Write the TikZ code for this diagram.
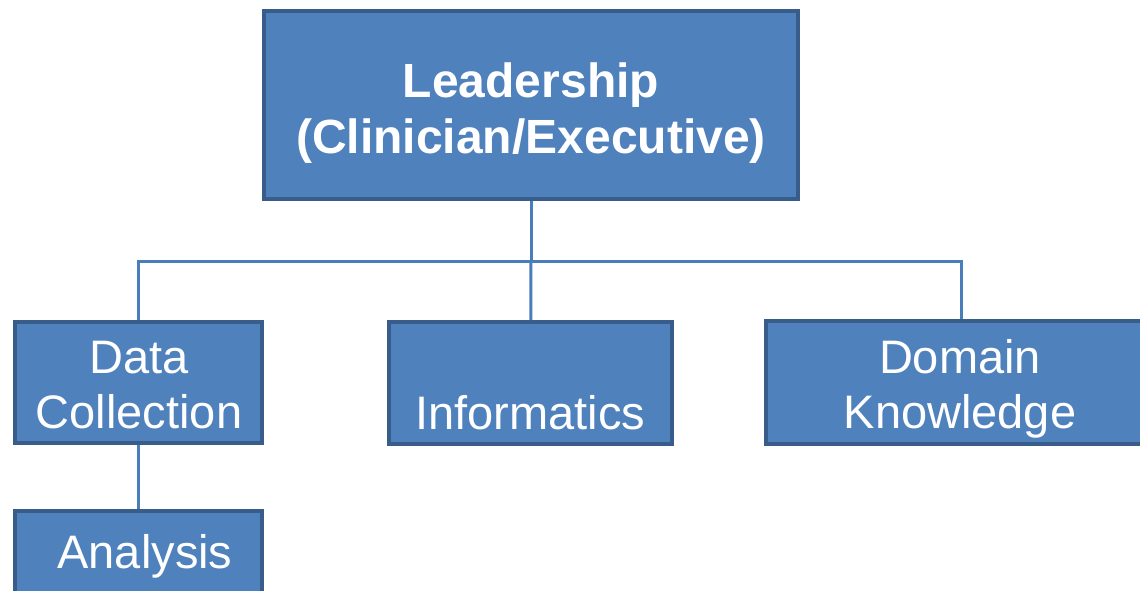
\documentclass[tikz,border=0pt]{standalone}
\usepackage{fontspec}
\setmainfont{Liberation Sans}
\definecolor{boxfill}{RGB}{79,129,189}
\definecolor{boxline}{RGB}{56,93,138}
\definecolor{linkline}{RGB}{74,126,187}
\begin{document}
\begin{tikzpicture}[x=1pt,y=-1pt,
    box/.style={draw=boxline,fill=boxfill,line width=4,rectangle},
    txt/.style={text=white,align=center,anchor=base,inner sep=0,
      font=\fontsize{47}{55}\selectfont},
    conn/.style={draw=linkline,line width=3}]
  \useasboundingbox (0,0) rectangle (1140,590);
  \clip (0,0) rectangle (1140,590);

  % boxes
  \node[box,minimum width=534,minimum height=188] (lead) at (531,105) {};
  \node[box,minimum width=247,minimum height=121] (data) at (138.5,382.5) {};
  \node[box,minimum width=283,minimum height=122] (info) at (530.5,383) {};
  \node[box,minimum width=390,minimum height=123] (domain) at (961,382.5) {};
  \node[box,minimum width=247,minimum height=121] (anal) at (138.5,571.5) {};

  % links
  \coordinate (bus) at (531,261);
  \draw[conn] (lead) -- (bus);
  \draw[conn] (bus) -| (data);
  \draw[conn] (bus) -| (domain);
  \draw[conn] (bus) -- (info);
  \draw[conn] (data) -- (anal);

  % labels (base = last line)
  \node[txt,font=\fontsize{48}{56}\selectfont\bfseries] (lead-t) at (531,153)
    {Leadership\\(Clinician/Executive)};
  \node[txt] (data-t) at (139,428) {Data\\Collection};
  \node[txt] (info-t) at (530.5,429) {Informatics};
  \node[txt] (domain-t) at (960,428) {Domain\\Knowledge};
  \node[txt] (anal-t) at (145,568) {Analysis};
\end{tikzpicture}
\end{document}
